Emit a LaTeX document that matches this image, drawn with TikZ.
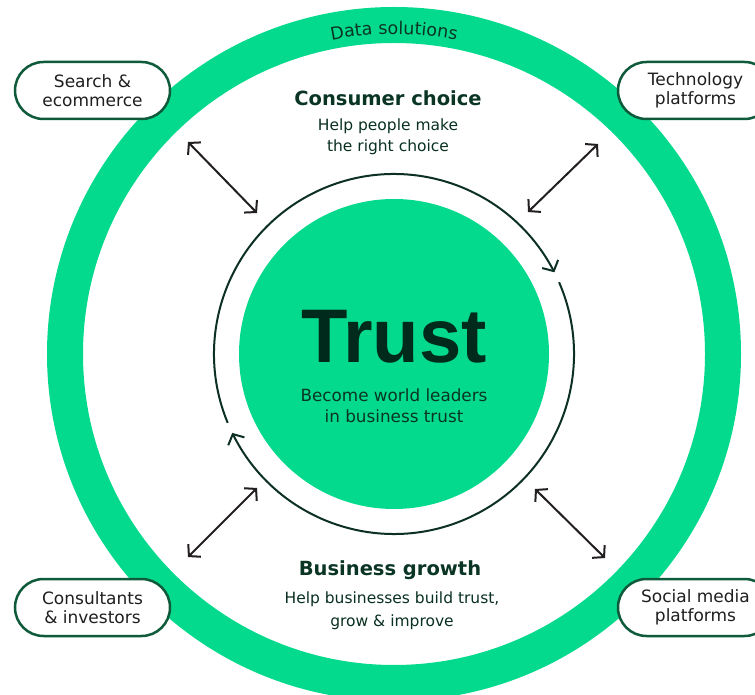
\documentclass[tikz,border=0pt]{standalone}
\usepackage{fontspec}
\setmainfont{DejaVu Sans}
\newfontfamily\trustfont{Liberation Sans}
\usetikzlibrary{arrows.meta,decorations.text,bending,calc}
\definecolor{tpgreen}{HTML}{04DA8D}
\definecolor{deepgreen}{HTML}{0A3524}
\definecolor{trustink}{HTML}{002A1B}
\definecolor{pillline}{HTML}{0E5A3A}
\definecolor{arrowink}{HTML}{231F20}
\definecolor{cycleink}{HTML}{0C3022}
\begin{document}
\begin{tikzpicture}[x=1pt,y=1pt,
  pill/.style={draw=pillline, line width=2.5pt, fill=white, rounded corners=28.5pt,
    minimum width=155pt, minimum height=57pt, align=center, text=black!88,
    font=\fontsize{17}{19.5}\selectfont, inner sep=0pt},
  heading/.style={anchor=base, text=deepgreen, font=\bfseries\fontsize{19.5}{22}\selectfont},
  subtext/.style={anchor=center, align=center, text=deepgreen!90!black, inner sep=0pt,
    font=\fontsize{15.5}{21}\selectfont},
  barb/.tip={Straight Barb[length=8pt,width=18pt]},
  dbl/.style={draw=arrowink, line width=2pt, barb-barb},
  cyc/.style={draw=cycleink, line width=2pt, -barb}]
\clip (0,0) rectangle (755,694);
\fill[white] (0,0) rectangle (755,694);

\coordinate (C) at (394,340);

% outer ring and the label that runs along it
\draw[tpgreen, line width=36pt] (C) circle[radius=329];
\path[decorate, decoration={text along path, text align=center,
    text={|\fontsize{17.5}{17.5}\selectfont\color{deepgreen}|Data solutions}}]
  (C) ++(115:320) arc[start angle=115, end angle=65, radius=320];

% core circle
\fill[tpgreen] (C) circle[radius=155];
\node[anchor=base, text=trustink, font=\trustfont\bfseries\fontsize{76}{76}\selectfont]
  (trust) at (394,331) {Trust};
\node[anchor=center, align=center, text=deepgreen, inner sep=0pt,
  font=\fontsize{16.8}{20.5}\selectfont]
  (mission) at (394,288.4) {Become world leaders\\in business trust};

% cycle arrows around the core
\coordinate (cycA) at ($(C)+(202.5:180)$);
\coordinate (cycB) at ($(C)+(23.5:180)$);
\draw[cyc] (cycA) arc[start angle=202.5, end angle=27, radius=180];
\draw[cyc] (cycB) arc[start angle=23.5, end angle=-154, radius=180];

% headings
\node[heading] (consumer) at (388,588) {Consumer choice};
\node[subtext] (consumersub) at (388,557.5) {Help people make\\the right choice};
\node[heading] (business) at (390,119) {Business growth};
\node[subtext, font=\fontsize{15.5}{22.5}\selectfont] (businesssub) at (392,83.4)
  {Help businesses build trust,\\grow \& improve};

% partner pills
\node[pill] (search) at (92.5,603.5) {Search \&\\ecommerce};
\node[pill] (tech) at (695.5,603.5) {Technology\\platforms};
\node[pill] (consult) at (92.5,86.5) {Consultants\\\& investors};
\node[pill] (social) at (695.5,86.5) {Social media\\platforms};

% two-way links
\coordinate (ulA) at (188,552);
\coordinate (ulB) at (257,481);
\coordinate (urA) at (598,550);
\coordinate (urB) at (528,482);
\coordinate (llA) at (257,206);
\coordinate (llB) at (188,137);
\coordinate (lrA) at (535,205);
\coordinate (lrB) at (605,136);
\draw[dbl] (ulA) -- (ulB);
\draw[dbl] (urA) -- (urB);
\draw[dbl] (llA) -- (llB);
\draw[dbl] (lrA) -- (lrB);
\end{tikzpicture}
\end{document}
